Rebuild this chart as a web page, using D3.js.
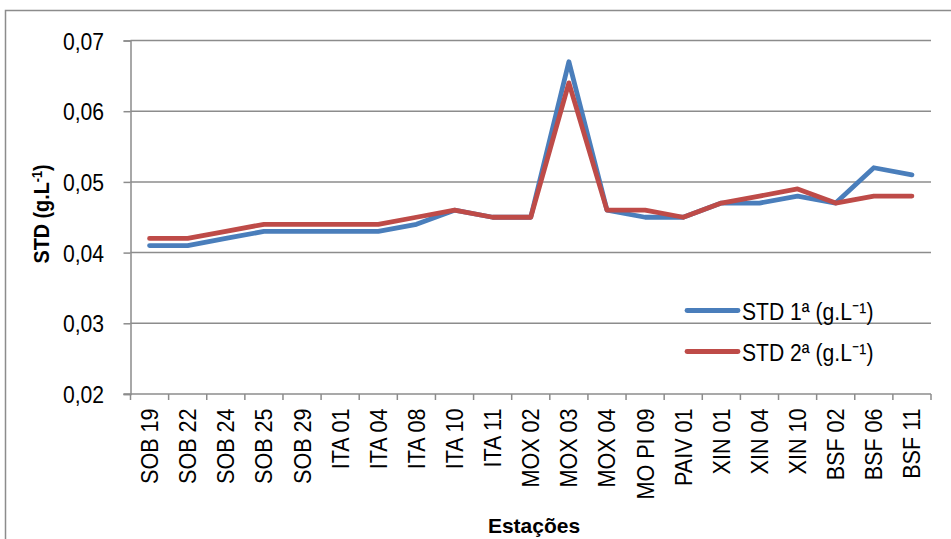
<!DOCTYPE html>
<html>
<head>
<meta charset="utf-8">
<script src="https://cdn.jsdelivr.net/npm/d3@7/dist/d3.min.js"></script>
<style>
  html, body { margin: 0; padding: 0; background: #fff; }
  svg { display: block; }
</style>
</head>
<body>
<svg id="chart" width="951" height="539"></svg>
<script>
// Stations sampled
const categories = ["SOB 19","SOB 22","SOB 24","SOB 25","SOB 29","ITA 01","ITA 04","ITA 08","ITA 10","ITA 11",
  "MOX 02","MOX 03","MOX 04","MO PI 09","PAIV 01","XIN 01","XIN 04","XIN 10","BSF 02","BSF 06","BSF 11"];
// Total dissolved solids, first and second campaigns (g/L)
const std1 = [0.041,0.041,0.042,0.043,0.043,0.043,0.043,0.044,0.046,0.045,
  0.045,0.067,0.046,0.045,0.045,0.047,0.047,0.048,0.047,0.052,0.051];
const std2 = [0.042,0.042,0.043,0.044,0.044,0.044,0.044,0.045,0.046,0.045,
  0.045,0.064,0.046,0.046,0.045,0.047,0.048,0.049,0.047,0.048,0.048];
const yTicks = [0.02,0.03,0.04,0.05,0.06,0.07];
const seriesNames = ["STD 1ª (g.L⁻¹)", "STD 2ª (g.L⁻¹)"];

const svg = d3.select("#chart");
const font = '"Liberation Sans", Arial, sans-serif';
const gray = "#8c8c8c";
const squeeze = 0.88;   // condensed look for the labels

// outer chart frame
svg.append("rect").attr("x", 5.5).attr("y", 10.5).attr("width", 960).attr("height", 560)
  .attr("fill", "none").attr("stroke", gray).attr("stroke-width", 1.5);

const plot = { left: 130.5, right: 931, top: 40.5, bottom: 394 };

const x = d3.scaleBand().domain(categories).range([plot.left, plot.right]);
const y = d3.scaleLinear().domain([0.02, 0.07]).range([plot.bottom, plot.top]);

// horizontal gridlines
svg.append("g").selectAll("line").data(yTicks.slice(1)).join("line")
  .attr("x1", plot.left).attr("x2", plot.right)
  .attr("y1", d => y(d)).attr("y2", d => y(d))
  .attr("stroke", gray).attr("stroke-width", 1.5);

// y axis
const yAxis = svg.append("g").attr("transform", `translate(${plot.left},0)`)
  .call(d3.axisLeft(y).tickValues(yTicks).tickSize(7)
    .tickFormat(d => d3.format(".2f")(d).replace(".", ",")));
yAxis.select(".domain").attr("stroke", gray).attr("stroke-width", 1.5);
yAxis.selectAll(".tick line").attr("stroke", gray).attr("stroke-width", 1.5);
yAxis.selectAll(".tick text")
  .attr("x", 0).attr("dy", "0.36em")
  .attr("transform", `translate(-26.5,0) scale(${squeeze},1)`)
  .attr("font-family", font).attr("font-size", 24).attr("fill", "#000");

// x axis with ticks on category boundaries
const xAxisG = svg.append("g").attr("transform", `translate(0,${plot.bottom})`);
xAxisG.append("line").attr("x1", plot.left - 7).attr("x2", plot.right)
  .attr("stroke", gray).attr("stroke-width", 1.5);
const bounds = d3.range(categories.length + 1).map(i => plot.left + i * x.step());
xAxisG.selectAll("line.tk").data(bounds).join("line").attr("class", "tk")
  .attr("x1", d => d).attr("x2", d => d).attr("y1", 0).attr("y2", 6)
  .attr("stroke", gray).attr("stroke-width", 1.5);
xAxisG.selectAll("text").data(categories).join("text")
  .attr("transform", d => `translate(${x(d) + x.bandwidth() / 2 + 8.5},14.5) rotate(-90) scale(${squeeze},1)`)
  .attr("text-anchor", "end")
  .attr("font-family", font).attr("font-size", 24.5).attr("fill", "#000")
  .text(d => d);

// series lines
const line = d3.line().x((d, i) => x(categories[i]) + x.bandwidth() / 2).y(d => y(d));
const colors = ["#4a7ebb", "#be4b48"];
[std1, std2].forEach((s, k) => {
  svg.append("path").datum(s).attr("d", line)
    .attr("fill", "none").attr("stroke", colors[k]).attr("stroke-width", 4.8)
    .attr("stroke-linejoin", "round").attr("stroke-linecap", "round");
});

// axis titles
svg.append("text").attr("transform", `translate(49,214) rotate(-90) scale(0.9,1)`)
  .attr("text-anchor", "middle").attr("font-family", font).attr("font-weight", "bold")
  .attr("font-size", 22).attr("fill", "#000")
  .html('STD (g.L<tspan baseline-shift="super" font-size="14">-1</tspan>)');
svg.append("text").attr("x", 534).attr("y", 533)
  .attr("text-anchor", "middle").attr("font-family", font).attr("font-weight", "bold")
  .attr("font-size", 21).attr("fill", "#000").text("Estações");

// legend
const legend = svg.append("g");
seriesNames.forEach((name, k) => {
  const ly = 310.5 + k * 41;
  legend.append("line").attr("x1", 687).attr("x2", 738).attr("y1", ly).attr("y2", ly)
    .attr("stroke", colors[k]).attr("stroke-width", 4.8).attr("stroke-linecap", "round");
  legend.append("text").attr("transform", `translate(742,${ly + 9}) scale(${squeeze},1)`)
    .attr("font-family", font).attr("font-size", 24).attr("fill", "#000").text(name);
});
</script>
</body>
</html>
